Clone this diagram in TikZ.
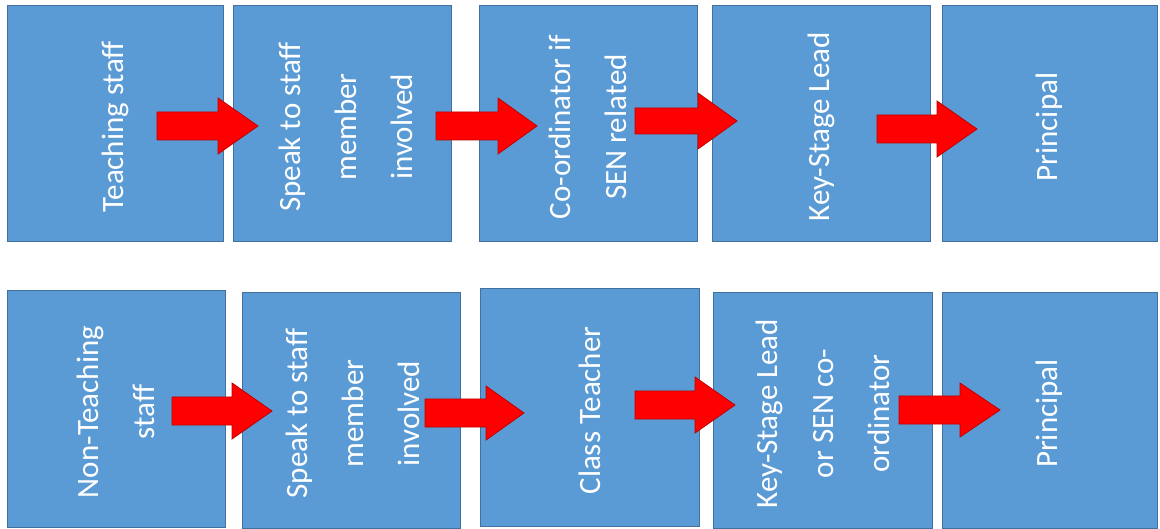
\documentclass[tikz,border=0pt]{standalone}
\usepackage{fontspec}
\setmainfont{Carlito}
\definecolor{boxfill}{HTML}{5B9BD5}
\definecolor{boxline}{HTML}{41719C}
\definecolor{arrowfill}{HTML}{FF0000}
\definecolor{arrowline}{HTML}{C00000}
\tikzset{
  stepbox/.style={draw=boxline, line width=1pt, fill=boxfill, inner sep=0pt},
  steptext/.style={rotate=90, text=white, align=center,
    font=\fontsize{31}{56}\selectfont, inner sep=0pt},
  blockarrow/.style={fill=arrowfill, draw=arrowline, line width=0.8pt, line join=miter}
}
% #1 tail x, #2 head base x, #3 tip x, #4 centre y, #5 shaft half width, #6 head half width
\newcommand\myblockarrow[6]{%
  \draw[blockarrow] (#1,#4-#5) -- (#2,#4-#5) -- (#2,#4-#6) -- (#3,#4)
    -- (#2,#4+#6) -- (#2,#4+#5) -- (#1,#4+#5) -- cycle;}
\begin{document}
\begin{tikzpicture}[x=1pt,y=-1pt]
\useasboundingbox (0,0) rectangle (1160,529);
\fill[white] (0,0) rectangle (1160,529);
% top row boxes
\node[stepbox, minimum width=216pt, minimum height=236pt] (t1) at (115,124) {};
\node[stepbox, minimum width=218pt, minimum height=236pt] (t2) at (342,124) {};
\node[stepbox, minimum width=218pt, minimum height=236pt] (t3) at (588,124) {};
\node[stepbox, minimum width=218pt, minimum height=236pt] (t4) at (821,124) {};
\node[stepbox, minimum width=215pt, minimum height=236pt] (t5) at (1049.5,124) {};
% bottom row boxes
\node[stepbox, minimum width=218pt, minimum height=236pt] (b1) at (116,409) {};
\node[stepbox, minimum width=218pt, minimum height=235pt] (b2) at (351,410.5) {};
\node[stepbox, minimum width=219pt, minimum height=237pt] (b3) at (589.5,407.5) {};
\node[stepbox, minimum width=219pt, minimum height=235pt] (b4) at (822.5,410.5) {};
\node[stepbox, minimum width=215pt, minimum height=235pt] (b5) at (1049.5,410.5) {};
% texts
\node[steptext] (t1l) at ([yshift=-3pt]t1.center) {Teaching staff};
\node[steptext] (t2l) at ([xshift=4pt,yshift=-3pt]t2.center) {Speak to staff\\member\\involved};
\node[steptext] (t3l) at ([yshift=-3pt]t3.center) {Co-ordinator if\\SEN related};
\node[steptext] (t4l) at ([yshift=-3pt]t4.center) {Key-Stage Lead};
\node[steptext] (t5l) at ([yshift=-3pt]t5.center) {Principal};
\node[steptext] (b1l) at ([yshift=-3pt]b1.center) {Non-Teaching\\staff};
\node[steptext] (b2l) at ([xshift=2pt,yshift=-3pt]b2.center) {Speak to staff\\member\\involved};
\node[steptext] (b3l) at ([yshift=-3pt]b3.center) {Class Teacher};
\node[steptext] (b4l) at ([yshift=-3pt]b4.center) {Key-Stage Lead\\or SEN co-\\ordinator};
\node[steptext] (b5l) at ([yshift=-3pt]b5.center) {Principal};
% arrows top
\myblockarrow{157}{218}{258}{126}{14}{28}
\myblockarrow{436}{498}{537}{126}{14}{28}
\myblockarrow{635}{698}{737}{121}{13}{28}
\myblockarrow{877}{937}{977}{129}{14}{28}
% arrows bottom
\myblockarrow{172}{232}{272}{411}{14}{28}
\myblockarrow{425}{486}{524}{413}{14}{27}
\myblockarrow{635}{695}{735}{405}{14}{28}
\myblockarrow{899}{960}{1000}{410}{14}{27}
\end{tikzpicture}
\end{document}
